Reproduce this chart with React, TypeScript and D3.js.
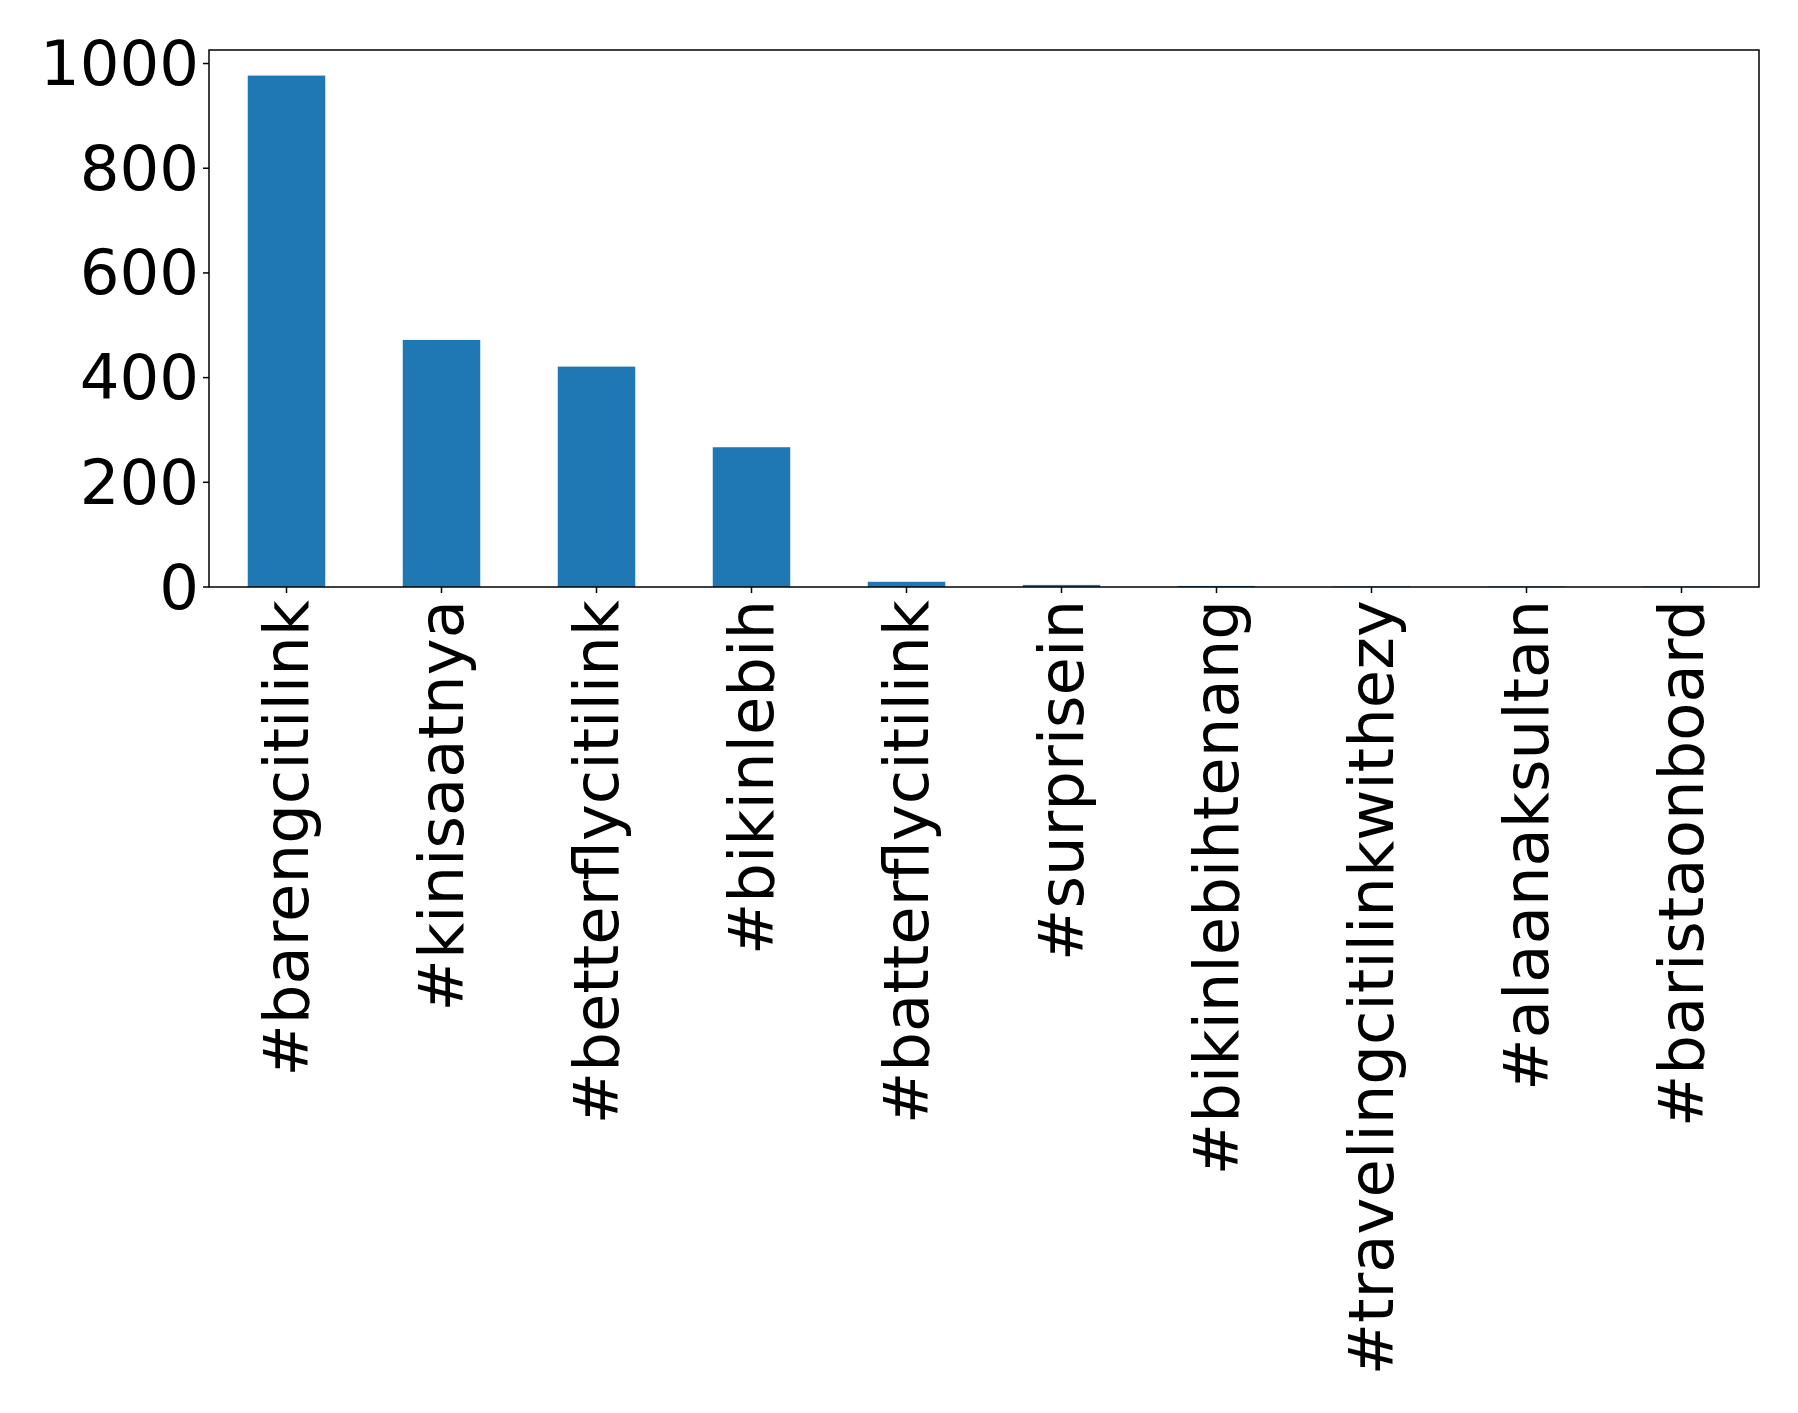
import React from "react";
import * as d3 from "d3";

const categories = [
  "#barengcitilink",
  "#kinisaatnya",
  "#betterflycitilink",
  "#bikinlebih",
  "#batterflycitilink",
  "#surprisein",
  "#bikinlebihtenang",
  "#travelingcitilinkwithezy",
  "#alaanaksultan",
  "#baristaonboard",
];
const counts = [977, 472, 421, 267, 10, 4, 2, 1, 1, 1];
const yTicks = [0, 200, 400, 600, 800, 1000];

const W = 1798;
const H = 1413;
const margin = { left: 209, right: 39, top: 50, bottom: 826 };

export default function App() {
  const x = d3
    .scaleBand<string>()
    .domain(categories)
    .range([margin.left, W - margin.right])
    .paddingInner(0.5)
    .paddingOuter(0.25);
  const maxV = d3.max(counts) as number;
  const y = d3
    .scaleLinear()
    .domain([0, maxV * 1.05])
    .range([H - margin.bottom, margin.top]);
  const x0 = margin.left;
  const x1 = W - margin.right;
  const y0 = H - margin.bottom;
  const y1 = margin.top;
  const font = "DejaVu Sans, sans-serif";
  const fs = 62.5;
  return (
    <div style={{ position: "absolute", left: 0, top: 0 }}>
      <svg width={W} height={H} style={{ display: "block", background: "#fff" }}>
        <rect x={0} y={0} width={W} height={H} fill="#fff" />
        {categories.map((c, i) => (
          <rect
            key={c}
            x={x(c)}
            y={y(counts[i])}
            width={x.bandwidth()}
            height={y0 - y(counts[i])}
            fill="#1f77b4"
          />
        ))}
        <rect
          x={x0}
          y={y1}
          width={x1 - x0}
          height={y0 - y1}
          fill="none"
          stroke="#000"
          strokeWidth={1.5}
        />
        {yTicks.map((t) => (
          <g key={t}>
            <line x1={x0 - 6} x2={x0} y1={y(t)} y2={y(t)} stroke="#000" strokeWidth={1.5} />
            <text
              x={x0 - 10}
              y={y(t)}
              textAnchor="end"
              dominantBaseline="central"
              fontFamily={font}
              fontSize={fs}
              fill="#000"
            >
              {t}
            </text>
          </g>
        ))}
        {categories.map((c) => {
          const cx = (x(c) as number) + x.bandwidth() / 2;
          return (
            <g key={c}>
              <line x1={cx} x2={cx} y1={y0} y2={y0 + 6} stroke="#000" strokeWidth={1.5} />
              <text
                transform={`translate(${cx},${y0 + 13}) rotate(-90)`}
                textAnchor="end"
                dominantBaseline="central"
                fontFamily={font}
                fontSize={fs}
                fill="#000"
              >
                {c}
              </text>
            </g>
          );
        })}
      </svg>
    </div>
  );
}
